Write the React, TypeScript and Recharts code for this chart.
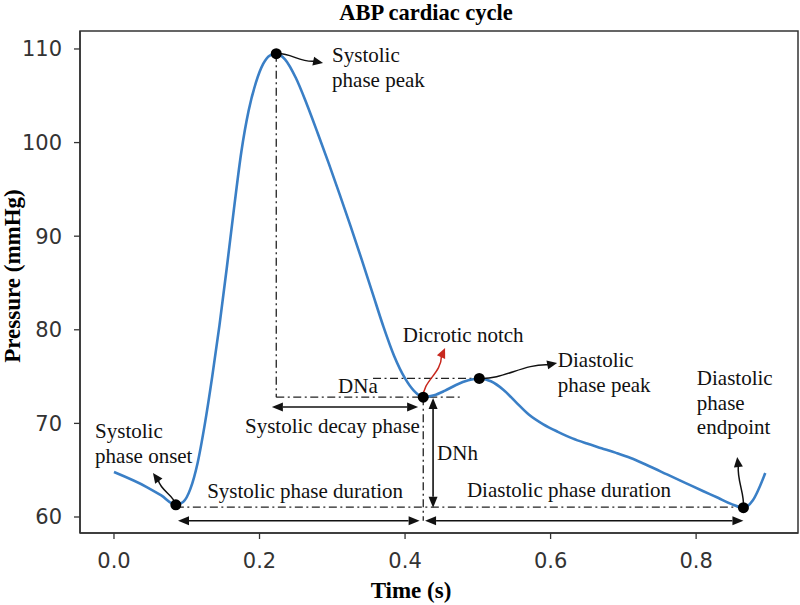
import React from "react";
import { LineChart, Line, XAxis, YAxis, ReferenceLine, ReferenceDot, ReferenceArea } from "recharts";

// ABP waveform (time in s, pressure in mmHg)
const TIME = [
  0.0, 0.045, 0.065, 0.085, 0.095, 0.105, 0.115, 0.125, 0.135, 0.145, 0.155, 0.165, 0.175, 0.185,
  0.195, 0.205, 0.214, 0.223, 0.235, 0.25, 0.265, 0.28, 0.295, 0.31, 0.325, 0.34, 0.355, 0.37,
  0.385, 0.4, 0.412, 0.425, 0.44, 0.455, 0.47, 0.487, 0.502, 0.518, 0.535, 0.552, 0.57, 0.59,
  0.61, 0.63, 0.65, 0.67, 0.69, 0.71, 0.735, 0.76, 0.785, 0.81, 0.83, 0.848, 0.865, 0.878, 0.895,
];
const PRESSURE = [
  64.8, 63.2, 62.3, 61.3, 61.6, 63.0, 65.8, 70.0, 75.0, 80.5, 86.6, 93.0, 99.0, 103.4,
  106.4, 108.4, 109.3, 109.5, 108.9, 106.9, 104.1, 101.0, 97.8, 94.5, 91.1, 87.6, 84.0, 80.4,
  77.2, 74.8, 73.5, 72.8, 73.0, 73.5, 74.1, 74.6, 74.8, 74.5, 73.6, 72.3, 70.95, 69.9,
  69.1, 68.4, 67.85, 67.35, 66.85, 66.3, 65.45, 64.55, 63.65, 62.75, 62.05, 61.4, 61.0, 61.8, 64.7,
];
// onset, systolic peak, dicrotic notch, diastolic peak, endpoint
const KEY_TIMES = [0.085, 0.223, 0.425, 0.502, 0.865];

const X_TICKS = [0, 0.2, 0.4, 0.6, 0.8];
const Y_TICKS = [60, 70, 80, 90, 100, 110];
const X_MIN = -0.0467;
const X_MAX = 0.94;
const Y_MIN = 58.29;
const Y_MAX = 111.92;

const data = TIME.map((t, i) => ({ t, p: PRESSURE[i] }));
const keyPoints = KEY_TIMES.map((k) => data.find((d) => d.t === k)!);
const [onset, peak, notch, dpeak, endpt] = keyPoints;

const SERIF = "'Liberation Serif', 'Times New Roman', serif";
const SANS = "DejaVu Sans, sans-serif";
const INK = "#111";

// annotation layout, in data units
const DASHED = [
  [{ x: peak.t, y: peak.p }, { x: peak.t, y: notch.p }],
  [{ x: peak.t, y: notch.p }, { x: 0.476, y: notch.p }],
  [{ x: 0.356, y: dpeak.p }, { x: dpeak.t, y: dpeak.p }],
  [{ x: notch.t, y: notch.p }, { x: notch.t, y: 59.6 }],
  [{ x: onset.t, y: 61.05 }, { x: endpt.t, y: 61.05 }],
];
const SPANS = [
  [{ x: 0.217, y: 71.75 }, { x: 0.418, y: 71.75 }],
  [{ x: 0.4385, y: 72.7 }, { x: 0.4385, y: 61.0 }],
  [{ x: 0.088, y: 59.6 }, { x: 0.42, y: 59.6 }],
  [{ x: 0.4275, y: 59.6 }, { x: endpt.t, y: 59.6 }],
];
const POINTERS = [
  { from: peak, to: { x: 0.2873, y: 108.5 }, bend: -4, color: INK },
  { from: notch, to: { x: 0.455, y: 78.06 }, bend: -7, color: "#c8281e" },
  { from: dpeak, to: { x: 0.609, y: 76.45 }, bend: 6, color: INK },
  { from: endpt, to: { x: 0.8564, y: 66.4 }, bend: 3, color: INK },
  { from: onset, to: { x: 0.0536, y: 64.7 }, bend: 4, color: INK },
];
const LABELS = [
  { x: 0.2997, y: 108.6, lines: ["Systolic", "phase peak"] },
  { x: 0.397, y: 78.7, lines: ["Dicrotic notch"] },
  { x: 0.61, y: 76.0, lines: ["Diastolic", "phase peak"] },
  { x: 0.801, y: 74.1, lines: ["Diastolic", "phase", "endpoint"] },
  { x: -0.026, y: 68.4, lines: ["Systolic", "phase onset"] },
  { x: 0.308, y: 73.2, lines: ["DNa"] },
  { x: 0.18, y: 69.0, lines: ["Systolic decay phase"] },
  { x: 0.444, y: 66.1, lines: ["DNh"] },
  { x: 0.128, y: 62.0, lines: ["Systolic phase duration"] },
  { x: 0.485, y: 62.1, lines: ["Diastolic phase duration"] },
];

function head(x: number, y: number, ux: number, uy: number, len: number, half: number, fill: string) {
  const bx = x - ux * len;
  const by = y - uy * len;
  const nx = -uy;
  const ny = ux;
  return (
    <polygon
      points={`${x},${y} ${bx + nx * half},${by + ny * half} ${bx - nx * half},${by - ny * half}`}
      fill={fill}
    />
  );
}

const doubleArrow = (props: any) => {
  const { x1, y1, x2, y2 } = props;
  const L = Math.hypot(x2 - x1, y2 - y1) || 1;
  const ux = (x2 - x1) / L;
  const uy = (y2 - y1) / L;
  const h = 11;
  return (
    <g>
      <line x1={x1 + ux * h} y1={y1 + uy * h} x2={x2 - ux * h} y2={y2 - uy * h} stroke={INK} strokeWidth={1.6} />
      {head(x2, y2, ux, uy, h, 4.5, INK)}
      {head(x1, y1, -ux, -uy, h, 4.5, INK)}
    </g>
  );
};

const curvyArrow = (color: string, bend: number) => (props: any) => {
  const { x1, y1, x2, y2 } = props;
  const L = Math.hypot(x2 - x1, y2 - y1) || 1;
  const ux = (x2 - x1) / L;
  const uy = (y2 - y1) / L;
  const nx = -uy;
  const ny = ux;
  const h = 10;
  const ex = x2 - ux * h;
  const ey = y2 - uy * h;
  const dx = ex - x1;
  const dy = ey - y1;
  const c1x = x1 + dx / 3 + nx * bend;
  const c1y = y1 + dy / 3 + ny * bend;
  const c2x = x1 + (2 * dx) / 3 - nx * bend;
  const c2y = y1 + (2 * dy) / 3 - ny * bend;
  return (
    <g>
      <path d={`M${x1},${y1} C${c1x},${c1y} ${c2x},${c2y} ${ex + ux},${ey + uy}`} fill="none" stroke={color} strokeWidth={1.5} />
      {head(x2, y2, ux, uy, h, 4.5, color)}
    </g>
  );
};

const textShape = (lines: string[]) => (props: any) => {
  const { cx, cy } = props;
  return (
    <text x={cx} y={cy} fontFamily={SERIF} fontSize={21} fill={INK}>
      {lines.map((s, i) => (
        <tspan key={i} x={cx} dy={i === 0 ? 0 : 24.5}>
          {s}
        </tspan>
      ))}
    </text>
  );
};

const XTick = (props: any) => (
  <text x={props.x} y={props.y} dy={14} textAnchor="middle" fontFamily={SANS} fontSize={21} fill="#333">
    {Number(props.payload.value).toFixed(1)}
  </text>
);

const YTick = (props: any) => (
  <text x={props.x} y={props.y} dy={7.5} textAnchor="end" fontFamily={SANS} fontSize={21} fill="#333">
    {props.payload.value}
  </text>
);

export default function App() {
  return (
    <div style={{ position: "absolute", left: 0, top: 0, width: 800, height: 605, background: "#fff" }}>
      <LineChart width={800} height={605} data={data} margin={{ top: 31, right: 2, left: 20, bottom: 42 }}>
        <XAxis
          type="number"
          dataKey="t"
          domain={[X_MIN, X_MAX]}
          allowDataOverflow
          ticks={X_TICKS}
          height={30}
          tick={XTick}
          tickSize={6}
          tickMargin={15}
          axisLine={{ stroke: "#333", strokeWidth: 1.5 }}
          tickLine={{ stroke: "#333", strokeWidth: 1.3 }}
        />
        <YAxis
          type="number"
          dataKey="p"
          domain={[Y_MIN, Y_MAX]}
          allowDataOverflow
          ticks={Y_TICKS}
          width={60}
          tick={YTick}
          tickSize={6}
          tickMargin={12}
          axisLine={{ stroke: "#333", strokeWidth: 1.5 }}
          tickLine={{ stroke: "#333", strokeWidth: 1.3 }}
        />
        <ReferenceArea
          x1={X_MIN}
          x2={X_MAX}
          y1={Y_MIN}
          y2={Y_MAX}
          fill="none"
          stroke="#333"
          strokeWidth={1.5}
          ifOverflow="visible"
        />
        {DASHED.map((seg, i) => (
          <ReferenceLine
            key={`d${i}`}
            segment={seg}
            stroke="#222"
            strokeWidth={1.3}
            strokeDasharray="8 3.5 2 3.5"
            ifOverflow="visible"
          />
        ))}
        <Line
          type="monotone"
          dataKey="p"
          stroke="#3a7fc6"
          strokeWidth={2.6}
          dot={false}
          activeDot={false}
          isAnimationActive={false}
        />
        {SPANS.map((seg, i) => (
          <ReferenceLine key={`s${i}`} segment={seg} ifOverflow="visible" shape={doubleArrow} />
        ))}
        {POINTERS.map((a, i) => (
          <ReferenceLine
            key={`a${i}`}
            segment={[{ x: a.from.t, y: a.from.p }, a.to]}
            ifOverflow="visible"
            shape={curvyArrow(a.color, a.bend)}
          />
        ))}
        {keyPoints.map((d, i) => (
          <ReferenceDot key={`k${i}`} x={d.t} y={d.p} r={5.5} fill="#000" stroke="none" ifOverflow="visible" />
        ))}
        {LABELS.map((l, i) => (
          <ReferenceDot key={`l${i}`} x={l.x} y={l.y} r={0} ifOverflow="visible" shape={textShape(l.lines)} />
        ))}
        <text x={426} y={20} textAnchor="middle" fontFamily={SERIF} fontWeight="bold" fontSize={22.5} fill="#000">
          ABP cardiac cycle
        </text>
        <text x={411} y={598} textAnchor="middle" fontFamily={SERIF} fontWeight="bold" fontSize={23} fill="#000">
          Time (s)
        </text>
        <text
          x={20}
          y={276}
          transform="rotate(-90 20 276)"
          textAnchor="middle"
          fontFamily={SERIF}
          fontWeight="bold"
          fontSize={23}
          fill="#000"
        >
          Pressure (mmHg)
        </text>
      </LineChart>
    </div>
  );
}
